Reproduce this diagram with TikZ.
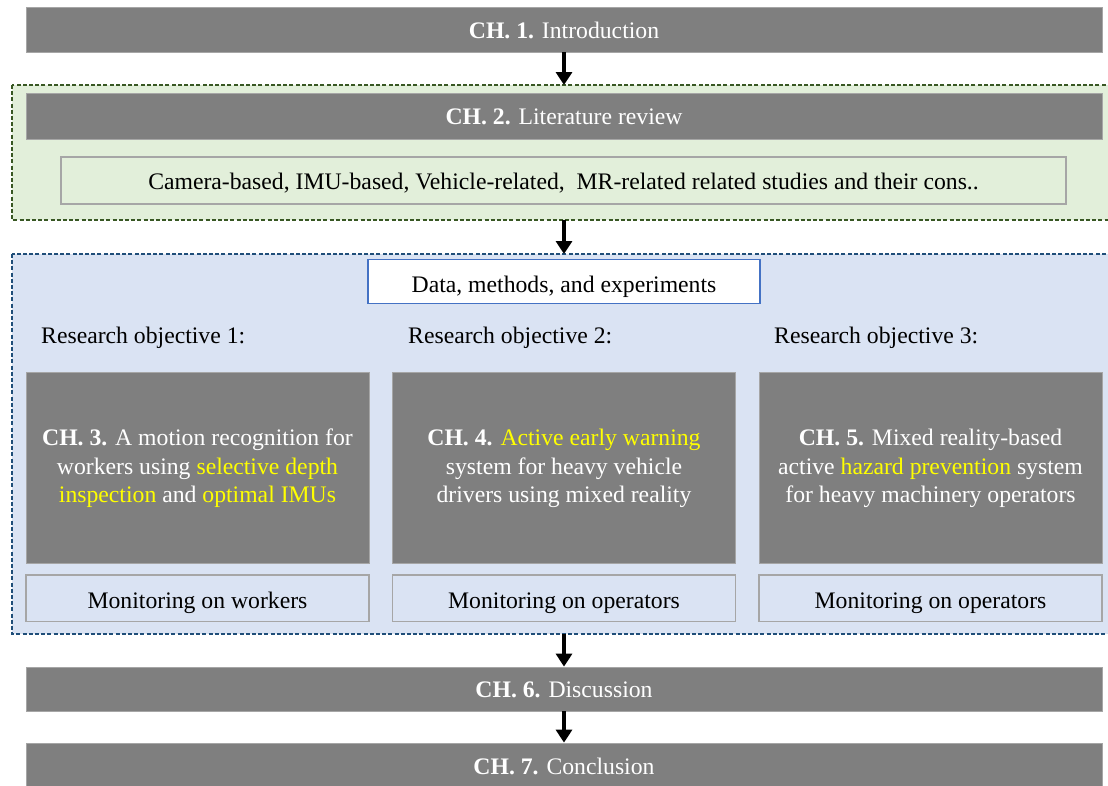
\documentclass[tikz,border=0pt]{standalone}
\usepackage{fontspec}
\setmainfont{LiberationSerif}[Extension=.ttf, UprightFont=*-Regular, BoldFont=*-Bold, ItalicFont=*-Italic, BoldItalicFont=*-BoldItalic]
\usetikzlibrary{arrows.meta}
\definecolor{bargray}{HTML}{7F7F7F}
\definecolor{baredge}{HTML}{A6A6A6}
\definecolor{greenfill}{HTML}{E2EFDA}
\definecolor{greenedge}{HTML}{385723}
\definecolor{bluefill}{HTML}{DAE3F3}
\definecolor{blueedge}{HTML}{1F4E79}
\definecolor{databorder}{HTML}{4472C4}
\definecolor{hl}{HTML}{FFFF00}
\tikzset{
  txt/.style={font=\fontsize{23.7}{28.3}\selectfont},
  chbar/.style={txt, rectangle, fill=bargray, draw=baredge, line width=0.8pt,
    minimum width=1076pt, inner sep=0pt, text=white, text height=17.6pt, text depth=0pt},
  chbox/.style={txt, rectangle, fill=bargray, draw=baredge, line width=0.8pt,
    minimum width=343pt, minimum height=191pt, inner sep=0pt, text=white, align=center,
    text depth=3.2pt},
  subbox/.style={txt, rectangle, draw=baredge, line width=1.2pt, inner sep=0pt, text depth=0pt},
  group/.style={line width=1.3pt, dash pattern=on 4pt off 2.2pt},
  flow/.style={line width=4pt, -{Triangle[length=13pt,width=16pt]}},
}
\begin{document}
\begin{tikzpicture}[x=1pt,y=-1pt]
\useasboundingbox (0,0) rectangle (1108,785);

% group backgrounds
\draw[group, fill=greenfill, draw=greenedge] (12,85) rectangle (1112,220);
\draw[group, fill=bluefill, draw=blueedge] (12,254) rectangle (1112,634);
\coordinate (gtop) at (564,85);
\coordinate (gbot) at (564,220);
\coordinate (btop) at (564,254);
\coordinate (bbot) at (564,634);

% chapter bars
\node[chbar, minimum height=45pt] (ch1) at (564,29.5) {\textbf{CH. 1.} Introduction};
\node[chbar, minimum height=46pt] (ch2) at (564,116) {\textbf{CH. 2.} Literature review};
\node[chbar, minimum height=44pt] (ch6) at (564,689) {\textbf{CH. 6.} Discussion};
\node[chbar, minimum height=45pt] (ch7) at (564,765.5) {\textbf{CH. 7.} Conclusion};

% literature summary
\node[subbox, fill=greenfill, minimum width=1005pt, minimum height=47pt, text height=17pt] (lit) at (563.5,180.5)
  {Camera-based, IMU-based, Vehicle-related,\ \ MR-related related studies and their cons..};

% data box
\node[subbox, fill=white, draw=databorder, minimum width=392pt, minimum height=44pt, text height=21.6pt] (data) at (564,281.5)
  {Data, methods, and experiments};

% research objectives
\node[txt, anchor=base west, inner sep=0pt] (ro1) at (41,343) {Research objective 1:};
\node[txt, anchor=base west, inner sep=0pt] (ro2) at (408,343) {Research objective 2:};
\node[txt, anchor=base west, inner sep=0pt] (ro3) at (774,343) {Research objective 3:};

% chapter boxes
\node[chbox] (ch3) at (197.5,467.5)
  {\textbf{CH. 3.} A motion recognition for\\ workers using \textcolor{hl}{selective depth}\\ \textcolor{hl}{inspection} and \textcolor{hl}{optimal IMUs}};
\node[chbox] (ch4) at (564,467.5)
  {\textbf{CH. 4.} \textcolor{hl}{Active early warning}\\ system for heavy vehicle\\ drivers using mixed reality};
\node[chbox] (ch5) at (930.5,467.5)
  {\textbf{CH. 5.} Mixed reality-based\\ active \textcolor{hl}{hazard prevention} system\\ for heavy machinery operators};

% monitoring boxes
\tikzset{monbox/.style={subbox, fill=bluefill, minimum width=343pt, minimum height=46.5pt, text height=20.8pt}}
\node[monbox] (m1) at (197.5,598.3) {Monitoring on workers};
\node[monbox] (m2) at (564,598.3) {Monitoring on operators};
\node[monbox] (m3) at (930.5,598.3) {Monitoring on operators};

% flow arrows
\draw[flow] (ch1.south) -- (gtop);
\draw[flow] (gbot) -- (btop);
\draw[flow] (bbot) -- (ch6.north);
\draw[flow] (ch6.south) -- (ch7.north);
\end{tikzpicture}
\end{document}
